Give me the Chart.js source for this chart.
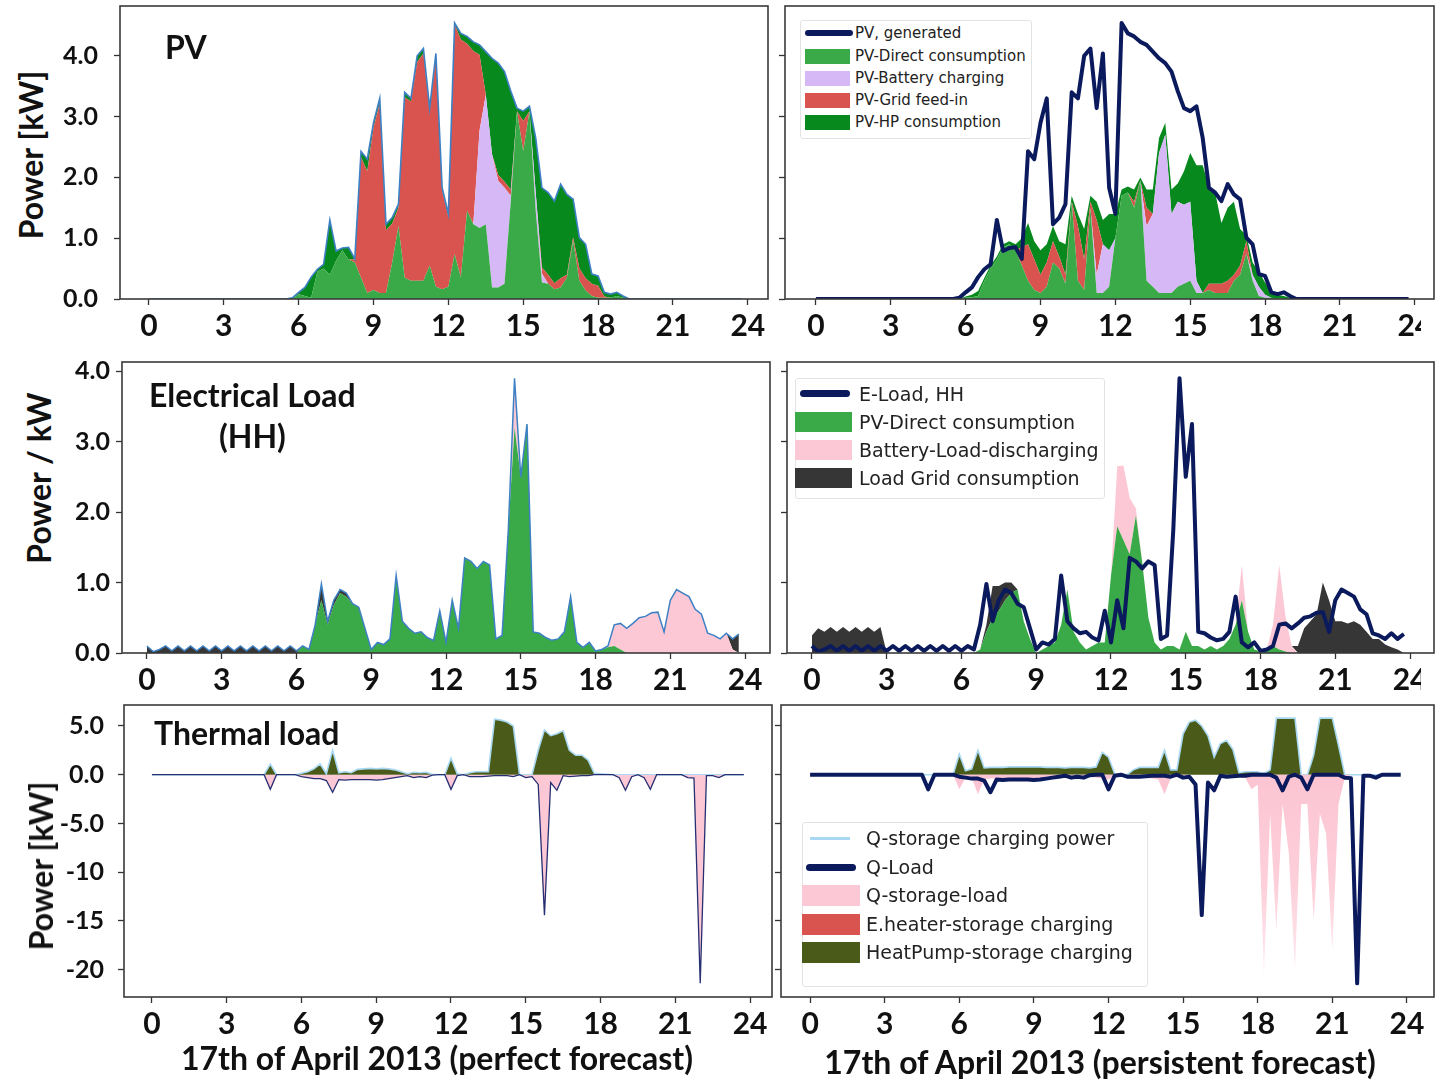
<!DOCTYPE html>
<html>
<head>
<meta charset="utf-8">
<script src="https://cdn.jsdelivr.net/npm/chart.js@4.4.0/dist/chart.umd.min.js"></script>
<style>
  body { margin: 0; background: #fff; }
  #page { position: relative; width: 1440px; height: 1081px; overflow: hidden; font-family: Lato, sans-serif; background: #fff; }
  canvas { position: absolute; }
  .lbl { position: absolute; font-weight: bold; color: #111; white-space: nowrap; line-height: 1; z-index: 3; }
  .ytitle { font-size: 32px; transform: translate(-50%, -50%) rotate(-90deg); }
  .xtitle { font-size: 31px; transform: translate(-50%, -50%); }
  .legend { position: absolute; background: #fff; border: 1.5px solid #e3e3e3; border-radius: 3px; z-index: 3; }
  .item { position: absolute; white-space: nowrap; font-family: "DejaVu Sans", sans-serif; color: #222; z-index: 4; }
  .sw { position: absolute; z-index: 4; }
  .mask { position: absolute; background: #fff; z-index: 5; }
</style>
</head>
<body>
<div id="page"></div>
<script>
// time of day, 15 minute steps
const hours = [
  0, 0.25, 0.5, 0.75, 1, 1.25, 1.5, 1.75,
  2, 2.25, 2.5, 2.75, 3, 3.25, 3.5, 3.75,
  4, 4.25, 4.5, 4.75, 5, 5.25, 5.5, 5.75,
  6, 6.25, 6.5, 6.75, 7, 7.25, 7.5, 7.75,
  8, 8.25, 8.5, 8.75, 9, 9.25, 9.5, 9.75,
  10, 10.25, 10.5, 10.75, 11, 11.25, 11.5, 11.75,
  12, 12.25, 12.5, 12.75, 13, 13.25, 13.5, 13.75,
  14, 14.25, 14.5, 14.75, 15, 15.25, 15.5, 15.75,
  16, 16.25, 16.5, 16.75, 17, 17.25, 17.5, 17.75,
  18, 18.25, 18.5, 18.75, 19, 19.25, 19.5, 19.75,
  20, 20.25, 20.5, 20.75, 21, 21.25, 21.5, 21.75,
  22, 22.25, 22.5, 22.75, 23, 23.25, 23.5, 23.75
];
const xTicks = [0, 3, 6, 9, 12, 15, 18, 21, 24];
const pvTicks = [0, 1, 2, 3, 4];
const loadTicks = [0, 1, 2, 3, 4];
const thermalTicks = [5, 0, -5, -10, -15, -20];
const thermalTickLabels = ['5.0', '0.0', '-5.0', '-10', '-15', '-20'];

// PV generation (kW), same measured curve in both forecasts
const pvGenerated = [
  0, 0, 0, 0, 0, 0, 0, 0,
  0, 0, 0, 0, 0, 0, 0, 0,
  0, 0, 0, 0, 0, 0, 0, 0.02,
  0.11, 0.19, 0.36, 0.49, 0.57, 1.3, 0.79, 0.84,
  0.85, 0.66, 2.43, 2.3, 2.9, 3.3, 1.23, 1.34,
  1.56, 3.4, 3.3, 4.0, 4.12, 3.14, 4.04, 1.83,
  1.4, 4.54, 4.37, 4.32, 4.23, 4.18, 4.07, 3.96,
  3.88, 3.74, 3.42, 3.14, 3.09, 3.17, 2.65, 1.83,
  1.75, 1.61, 1.89, 1.72, 1.64, 1.01, 0.9, 0.41,
  0.38, 0.11, 0.08, 0.11, 0.05, 0, 0, 0,
  0, 0, 0, 0, 0, 0, 0, 0,
  0, 0, 0, 0, 0, 0, 0, 0
];
// perfect forecast: PV split
const pvDirectPerfect = [
  0, 0, 0, 0, 0, 0, 0, 0,
  0, 0, 0, 0, 0, 0, 0, 0,
  0, 0, 0, 0, 0, 0, 0, 0.01,
  0.08, 0.05, 0.02, 0.45, 0.5, 0.4, 0.63, 0.8,
  0.65, 0.6, 0.35, 0.1, 0.15, 0.1, 0.1, 0.6,
  1.2, 0.35, 0.3, 0.3, 0.3, 0.55, 0.2, 0.16,
  0.2, 0.74, 0.35, 1.45, 1.23, 1.17, 1.23, 0.19,
  0.19, 0.25, 1.6, 3.09, 2.43, 3.09, 1.45, 0.27,
  0.25, 0.16, 0.19, 0.35, 0.96, 0.3, 0.14, 0.05,
  0.02, 0.02, 0.02, 0.05, 0.02, 0, 0, 0,
  0, 0, 0, 0, 0, 0, 0, 0,
  0, 0, 0, 0, 0, 0, 0, 0
];
const pvBatteryPerfect = [
  0, 0, 0, 0, 0, 0, 0, 0,
  0, 0, 0, 0, 0, 0, 0, 0,
  0, 0, 0, 0, 0, 0, 0, 0,
  0, 0, 0, 0, 0, 0, 0, 0,
  0, 0, 0, 0, 0, 0, 0, 0,
  0, 0, 0, 0, 0, 0, 0, 0,
  0, 0, 0, 0, 0, 1.6, 2.13, 2.19,
  1.75, 1.58, 0.1, 0, 0, 0, 0.3, 0.15,
  0, 0, 0, 0, 0, 0, 0, 0,
  0, 0, 0, 0, 0, 0, 0, 0,
  0, 0, 0, 0, 0, 0, 0, 0,
  0, 0, 0, 0, 0, 0, 0, 0
];
const pvGridPerfect = [
  0, 0, 0, 0, 0, 0, 0, 0,
  0, 0, 0, 0, 0, 0, 0, 0,
  0, 0, 0, 0, 0, 0, 0, 0,
  0, 0, 0, 0, 0, 0, 0, 0,
  0, 0.05, 1.98, 2.0, 2.67, 3.12, 1.03, 0.64,
  0.3, 2.97, 2.95, 3.6, 3.74, 2.54, 3.79, 1.62,
  1.15, 3.78, 3.92, 2.75, 2.85, 1.25, 0, 0,
  0.1, 0.1, 0.1, 0, 0.5, 0, 0, 0.1,
  0.15, 0.1, 0.15, 0.05, 0.05, 0.2, 0.2, 0.2,
  0.2, 0.02, 0, 0, 0, 0, 0, 0,
  0, 0, 0, 0, 0, 0, 0, 0,
  0, 0, 0, 0, 0, 0, 0, 0
];
const pvHpPerfect = [
  0, 0, 0, 0, 0, 0, 0, 0,
  0, 0, 0, 0, 0, 0, 0, 0,
  0, 0, 0, 0, 0, 0, 0, 0.01,
  0.03, 0.14, 0.34, 0.04, 0.07, 0.9, 0.16, 0.04,
  0.2, 0.01, 0.1, 0.2, 0.08, 0.08, 0.1, 0.1,
  0.06, 0.08, 0.05, 0.1, 0.08, 0.05, 0.05, 0.05,
  0.05, 0.02, 0.1, 0.12, 0.15, 0.16, 0.71, 1.58,
  1.84, 1.81, 1.62, 0.05, 0.16, 0.08, 0.9, 1.31,
  1.35, 1.35, 1.55, 1.32, 0.63, 0.51, 0.56, 0.16,
  0.16, 0.07, 0.06, 0.06, 0.03, 0, 0, 0,
  0, 0, 0, 0, 0, 0, 0, 0,
  0, 0, 0, 0, 0, 0, 0, 0
];
// persistent forecast: PV split
const pvDirectPersistent = [
  0, 0, 0, 0, 0, 0, 0, 0,
  0, 0, 0, 0, 0, 0, 0, 0,
  0, 0, 0, 0, 0, 0, 0, 0,
  0.02, 0.03, 0.05, 0.3, 0.5, 0.65, 0.85, 0.9,
  0.8, 0.55, 0.3, 0.15, 0.1, 0.2, 0.6, 0.5,
  0.25, 1.6, 0.3, 0.15, 1.5, 0.1, 0.1, 0.2,
  1.0, 1.7, 1.75, 1.5, 1.95, 0.3, 0.2, 0.1,
  0.1, 0.1, 0.2, 0.25, 0.3, 0.1, 0.1, 0.15,
  0.1, 0.1, 0.1, 0.3, 0.4, 0.75, 0.3, 0.05,
  0.02, 0.02, 0.01, 0.01, 0, 0, 0, 0,
  0, 0, 0, 0, 0, 0, 0, 0,
  0, 0, 0, 0, 0, 0, 0, 0
];
const pvBatteryPersistent = [
  0, 0, 0, 0, 0, 0, 0, 0,
  0, 0, 0, 0, 0, 0, 0, 0,
  0, 0, 0, 0, 0, 0, 0, 0,
  0, 0, 0, 0, 0, 0, 0, 0,
  0, 0, 0, 0, 0, 0, 0, 0,
  0, 0, 0, 0, 0, 0.3, 0.8, 0.6,
  0, 0, 0, 0, 0, 0.9, 1.2, 2.3,
  2.6, 1.3, 1.4, 1.3, 1.3, 0.2, 0, 0,
  0, 0, 0, 0, 0, 0, 0.1, 0.15,
  0.05, 0, 0, 0, 0, 0, 0, 0,
  0, 0, 0, 0, 0, 0, 0, 0,
  0, 0, 0, 0, 0, 0, 0, 0
];
const pvGridPersistent = [
  0, 0, 0, 0, 0, 0, 0, 0,
  0, 0, 0, 0, 0, 0, 0, 0,
  0, 0, 0, 0, 0, 0, 0, 0,
  0, 0, 0, 0, 0, 0, 0, 0,
  0, 0.3, 0.6, 0.5, 0.3, 0.4, 0.35, 0.2,
  0.15, 0, 0.9, 0.5, 0.1, 0.9, 0, 0,
  0, 0, 0, 0.1, 0, 0.3, 0, 0,
  0, 0, 0, 0, 0, 0, 0, 0.1,
  0.15, 0.15, 0.2, 0.1, 0.15, 0.2, 0, 0,
  0, 0, 0, 0, 0, 0, 0, 0,
  0, 0, 0, 0, 0, 0, 0, 0,
  0, 0, 0, 0, 0, 0, 0, 0
];
const pvHpPersistent = [
  0, 0, 0, 0, 0, 0, 0, 0,
  0, 0, 0, 0, 0, 0, 0, 0,
  0, 0, 0, 0, 0, 0, 0, 0,
  0.02, 0.04, 0.08, 0.05, 0.05, 0.05, 0.05, 0.05,
  0.1, 0.15, 0.35, 0.3, 0.4, 0.3, 0.25, 0.25,
  0.5, 0.1, 0.2, 0.5, 0.1, 0.3, 0.4, 0.6,
  0.4, 0.1, 0.1, 0.2, 0.05, 0.3, 0.4, 0.25,
  0.2, 0.4, 0.3, 0.55, 0.8, 1.9, 2.1, 1.6,
  1.5, 1.0, 1.2, 1.2, 0.6, 0.1, 0.2, 0.25,
  0.2, 0.1, 0.06, 0.04, 0.02, 0, 0, 0,
  0, 0, 0, 0, 0, 0, 0, 0,
  0, 0, 0, 0, 0, 0, 0, 0
];

// household electrical load (kW)
const eLoad = [
  0.1, 0.02, 0.05, 0.1, 0.03, 0.1, 0.03, 0.1,
  0.03, 0.1, 0.03, 0.1, 0.03, 0.1, 0.03, 0.1,
  0.03, 0.1, 0.03, 0.1, 0.03, 0.1, 0.03, 0.1,
  0.03, 0.1, 0.05, 0.4, 0.98, 0.45, 0.75, 0.9,
  0.85, 0.7, 0.65, 0.35, 0.05, 0.15, 0.12, 0.2,
  1.1, 0.45, 0.35, 0.28, 0.3, 0.22, 0.18, 0.6,
  0.15, 0.75, 0.35, 1.35, 1.3, 1.2, 1.3, 1.25,
  0.2, 0.25, 1.75, 3.9, 2.5, 3.25, 0.3, 0.28,
  0.22, 0.18, 0.2, 0.3, 0.8, 0.15, 0.08, 0.15,
  0.03, 0.05, 0.1, 0.4, 0.42, 0.35, 0.42, 0.5,
  0.52, 0.57, 0.58, 0.3, 0.75, 0.9, 0.85, 0.8,
  0.62, 0.55, 0.28, 0.25, 0.2, 0.28, 0.2, 0.27
];
const eDirectPerfect = [
  0, 0, 0, 0, 0, 0, 0, 0,
  0, 0, 0, 0, 0, 0, 0, 0,
  0, 0, 0, 0, 0, 0, 0, 0,
  0, 0.1, 0.05, 0.4, 0.75, 0.4, 0.68, 0.85,
  0.8, 0.7, 0.65, 0.35, 0.05, 0.15, 0.12, 0.2,
  1.1, 0.45, 0.35, 0.28, 0.3, 0.22, 0.18, 0.6,
  0.15, 0.75, 0.35, 1.35, 1.3, 1.2, 1.3, 1.25,
  0.2, 0.25, 1.75, 3.2, 2.5, 3.25, 0.3, 0.28,
  0.22, 0.18, 0.2, 0.3, 0.8, 0.15, 0.08, 0.15,
  0.03, 0.05, 0.08, 0.1, 0.05, 0, 0, 0,
  0, 0, 0, 0, 0, 0, 0, 0,
  0, 0, 0, 0, 0, 0, 0, 0
];
const eBatteryPerfect = [
  0, 0, 0, 0, 0, 0, 0, 0,
  0, 0, 0, 0, 0, 0, 0, 0,
  0, 0, 0, 0, 0, 0, 0, 0,
  0, 0, 0, 0, 0, 0, 0, 0,
  0, 0, 0, 0, 0, 0, 0, 0,
  0, 0, 0, 0, 0, 0, 0, 0,
  0, 0, 0, 0, 0, 0, 0, 0,
  0, 0, 0, 0.7, 0, 0, 0, 0,
  0, 0, 0, 0, 0, 0, 0, 0,
  0, 0, 0.02, 0.3, 0.37, 0.35, 0.42, 0.5,
  0.52, 0.57, 0.58, 0.3, 0.75, 0.9, 0.85, 0.8,
  0.62, 0.55, 0.28, 0.25, 0.2, 0.28, 0.05, 0
];
const eGridPerfect = [
  0.1, 0.02, 0.05, 0.1, 0.03, 0.1, 0.03, 0.1,
  0.03, 0.1, 0.03, 0.1, 0.03, 0.1, 0.03, 0.1,
  0.03, 0.1, 0.03, 0.1, 0.03, 0.1, 0.03, 0.1,
  0.03, 0, 0, 0, 0.23, 0.05, 0.07, 0.05,
  0.05, 0, 0, 0, 0, 0, 0, 0,
  0, 0, 0, 0, 0, 0, 0, 0,
  0, 0, 0, 0, 0, 0, 0, 0,
  0, 0, 0, 0, 0, 0, 0, 0,
  0, 0, 0, 0, 0, 0, 0, 0,
  0, 0, 0, 0, 0, 0, 0, 0,
  0, 0, 0, 0, 0, 0, 0, 0,
  0, 0, 0, 0, 0, 0, 0.15, 0.27
];
const eDirectPersistent = [
  0, 0, 0, 0, 0, 0, 0, 0,
  0, 0, 0, 0, 0, 0, 0, 0,
  0, 0, 0, 0, 0, 0, 0, 0,
  0, 0, 0, 0.05, 0.3, 0.5, 0.6, 0.75,
  0.85, 0.9, 0.45, 0.2, 0, 0.05, 0.1, 0.15,
  0.4, 0.9, 0.3, 0.15, 0.05, 0.1, 0.15, 0.15,
  1.1, 1.8, 1.6, 1.4, 1.95, 1.3, 0.5, 0.15,
  0.05, 0.1, 0.1, 0.05, 0.3, 0.1, 0.1, 0.05,
  0.1, 0.05, 0.1, 0.2, 0.4, 0.75, 0.3, 0.05,
  0.02, 0.05, 0.1, 0.05, 0.02, 0, 0, 0,
  0, 0, 0, 0, 0, 0, 0, 0,
  0, 0, 0, 0, 0, 0, 0, 0
];
const eBatteryPersistent = [
  0, 0, 0, 0, 0, 0, 0, 0,
  0, 0, 0, 0, 0, 0, 0, 0,
  0, 0, 0, 0, 0, 0, 0, 0,
  0, 0, 0, 0, 0, 0, 0, 0,
  0, 0, 0, 0, 0, 0, 0, 0,
  0, 0, 0, 0, 0, 0, 0, 0,
  0, 0.85, 1.06, 0.8, 0.1, 0, 0, 0,
  0, 0, 0, 0, 0, 0, 0, 0,
  0, 0, 0, 0, 0, 0.5, 0, 0,
  0, 0, 0.3, 1.2, 0.5, 0.1, 0, 0,
  0, 0, 0, 0, 0, 0, 0, 0,
  0, 0, 0, 0, 0, 0, 0, 0
];
const eGridPersistent = [
  0.25, 0.35, 0.3, 0.37, 0.3, 0.37, 0.3, 0.37,
  0.3, 0.37, 0.3, 0.37, 0, 0, 0, 0,
  0, 0, 0, 0, 0, 0, 0, 0,
  0, 0, 0, 0, 0.1, 0.45, 0.35, 0.25,
  0.15, 0, 0, 0, 0, 0, 0, 0,
  0, 0, 0, 0, 0, 0, 0, 0,
  0, 0, 0, 0, 0, 0, 0, 0,
  0, 0, 0, 0, 0, 0, 0, 0,
  0, 0, 0, 0, 0, 0, 0, 0,
  0, 0, 0, 0, 0, 0, 0.1, 0.35,
  0.45, 0.55, 1.0, 0.75, 0.45, 0.45, 0.42, 0.45,
  0.4, 0.3, 0.2, 0.2, 0.12, 0.08, 0.05, 0
];

// thermal (kW): heat demand is drawn negative
const qLoad = [
  0, 0, 0, 0, 0, 0, 0, 0,
  0, 0, 0, 0, 0, 0, 0, 0,
  0, 0, 0, -1.5, 0, 0, 0, 0,
  -0.2, -0.3, -0.4, -0.4, -0.6, -1.8, -0.5, -0.55,
  -0.5, -0.5, -0.5, -0.5, -0.55, -0.5, -0.4, -0.3,
  -0.2, -0.1, -0.3, -0.2, -0.3, -0.05, 0, 0,
  -1.5, -0.1, 0, -0.2, -0.2, -0.2, -0.15, -0.1,
  -0.1, -0.1, -0.2, 0, -0.3, -0.2, -1.0, -14.4,
  -0.8, -1.6, -0.1, -0.2, -0.15, -0.1, -0.1, 0,
  0, 0, 0, -0.3, -1.6, -0.2, 0, -0.3,
  -1.5, 0, 0, 0, 0, 0, -0.3, -0.35,
  -21.4, -0.1, -0.1, -0.3, 0, 0, 0, 0
];
const hpStoragePerfect = [
  0, 0, 0, 0, 0, 0, 0, 0,
  0, 0, 0, 0, 0, 0, 0, 0,
  0, 0, 0, 1.1, 0, 0, 0, 0,
  0.15, 0.3, 0.6, 1.1, 0.1, 2.5, 0.2, 0.3,
  0.2, 0.55, 0.6, 0.65, 0.6, 0.65, 0.6, 0.5,
  0.3, 0.1, 0.25, 0.2, 0.25, 0.05, 0, 0,
  1.7, 0.1, 0, 0.2, 0.3, 0.3, 0.3, 5.7,
  5.6, 5.4, 5.0, 0, 0, 0, 2.5, 4.6,
  4.0, 4.2, 4.5, 2.5, 2.0, 2.0, 1.5, 0.15,
  0.1, 0.05, 0, 0, 0, 0, 0, 0,
  0, 0, 0, 0, 0, 0, 0, 0,
  0, 0, 0, 0, 0, 0, 0, 0
];
const hpStoragePersistent = [
  0, 0, 0, 0, 0, 0, 0, 0,
  0, 0, 0, 0, 0, 0, 0, 0,
  0, 0, 0, 0, 0, 0, 0, 0,
  2.1, 0.4, 0.6, 2.5, 0.7, 0.75, 0.75, 0.75,
  0.8, 0.8, 0.8, 0.8, 0.8, 0.8, 0.75, 0.75,
  0.75, 0.7, 0.75, 0.75, 0.75, 0.7, 0.8, 2.3,
  1.8, 0.1, 0, 0, 0.5, 0.75, 0.75, 0.75,
  0.75, 2.5, 0.5, 0.5, 4.2, 5.4, 5.6, 5.0,
  4.0, 1.8, 3.2, 3.5, 2.6, 0.2, 0.3, 0.3,
  0.3, 0.1, 0.5, 5.8, 5.8, 5.8, 5.8, 0,
  0, 2.0, 5.8, 5.8, 5.8, 3.0, 0, 0,
  0, 0, 0, 0, 0, 0, 0, 0
];
const qStoragePersistent = [
  0, 0, 0, 0, 0, 0, 0, 0,
  0, 0, 0, 0, 0, 0, 0, 0,
  0, 0, 0, 0, 0, 0, 0, 0,
  -1.5, -0.3, -0.3, -2.0, -0.5, -0.4, -0.4, -0.4,
  -0.4, -0.4, -0.35, -0.35, -0.35, -0.3, -0.3, -0.3,
  -0.25, -0.2, -0.2, -0.2, -0.2, -0.2, -0.3, -0.4,
  -0.5, -0.1, 0, 0, -0.2, -0.3, -0.3, -0.4,
  -0.5, -2.0, -0.4, -0.2, -0.1, 0, 0, 0,
  0, 0, 0, 0, 0, -0.2, -0.3, -1.5,
  -1.0, -20.5, -4.0, -16.0, -3.0, -8.0, -20.0, -3.0,
  -3.0, -15.0, -4.0, -6.0, -18.0, -3.0, -0.3, 0,
  0, 0, 0, 0, 0, 0, 0, 0
];

const C = {
  green: '#3aaa48', lavender: '#d7b8f6', red: '#d9534f', darkGreen: '#07891d',
  pink: '#fdc8d5', gray: '#363636', olive: '#4a5a18', navy: '#0b1a5c',
  steel: '#3d80c4', lightBlue: '#a8d8f2', thinNavy: '#262f72'
};

const page = document.getElementById('page');
const pts = vals => hours.map((h, i) => ({ x: h, y: vals[i] }));

function area(data, color, fill, extra) {
  return Object.assign({ data: pts(data), backgroundColor: color, borderWidth: 0, fill: fill, stack: 'a', pointRadius: 0 }, extra || {});
}
function line(data, color, width, extra) {
  return Object.assign({ data: pts(data), borderColor: color, borderWidth: width, fill: false, stack: 'line', pointRadius: 0 }, extra || {});
}
// pink streaks of the persistent case fade out downwards
function fadingPink(context) {
  const chart = context.chart;
  const a = chart.chartArea;
  if (!a) return C.pink;
  const y0 = chart.scales.y.getPixelForValue(0);
  const g = chart.ctx.createLinearGradient(0, y0, 0, a.bottom);
  g.addColorStop(0, 'rgba(252,196,210,1)');
  g.addColorStop(0.5, 'rgba(252,196,210,0.8)');
  g.addColorStop(1, 'rgba(252,196,210,0.2)');
  return g;
}

const framePlugin = {
  id: 'frame',
  afterDraw(chart) {
    const { ctx, chartArea: a } = chart;
    ctx.save();
    ctx.strokeStyle = '#3a3a3a';
    ctx.lineWidth = 1.6;
    ctx.strokeRect(a.left, a.top, a.right - a.left, a.bottom - a.top);
    ctx.restore();
  }
};

function panel(box, datasets, y) {
  const padT = 4, padR = 10, xh = 48;
  const cv = document.createElement('canvas');
  cv.width = box.r - box.l + box.yw + padR;
  cv.height = box.b - box.t + padT + xh;
  cv.style.left = (box.l - box.yw) + 'px';
  cv.style.top = (box.t - padT) + 'px';
  page.appendChild(cv);
  new Chart(cv, {
    type: 'line',
    data: { datasets },
    options: {
      responsive: false, animation: false, events: [],
      layout: { padding: { top: padT, right: padR, left: 0, bottom: 0 } },
      plugins: { legend: { display: false }, tooltip: { enabled: false } },
      elements: { line: { tension: 0 }, point: { radius: 0 } },
      scales: {
        x: {
          type: 'linear', min: box.x0, max: box.x1,
          afterFit(s) { s.height = xh; s.paddingLeft = 0; s.paddingRight = 0; },
          afterBuildTicks(s) { s.ticks = xTicks.map(v => ({ value: v })); },
          grid: { drawOnChartArea: false, color: '#333', tickLength: 6, tickWidth: 1.3 },
          border: { display: false },
          ticks: { autoSkip: false, maxRotation: 0, padding: 3, color: '#111',
                   font: { family: 'Lato', weight: 'bold', size: 30 }, callback: v => String(v) }
        },
        y: {
          min: y.min, max: y.max, stacked: y.stacked,
          afterFit(s) { s.width = box.yw; s.paddingTop = 0; s.paddingBottom = 0; },
          afterBuildTicks(s) { s.ticks = y.ticks.map(v => ({ value: v })); },
          grid: { drawOnChartArea: false, color: '#333', tickLength: 6, tickWidth: 1.3 },
          border: { display: false },
          ticks: { autoSkip: false, padding: y.pad, color: '#111',
                   font: { family: 'Lato', weight: 'bold', size: 25 },
                   callback: box.labels ? y.fmt : () => '' }
        }
      }
    },
    plugins: [framePlugin]
  });
}

const fmt1 = v => v.toFixed(1);
const fmtThermal = v => thermalTickLabels[thermalTicks.indexOf(v)];
const pvY = { min: 0, max: 4.82, stacked: true, ticks: pvTicks, fmt: fmt1, pad: 16 };
const loadY = { min: 0, max: 4.13, stacked: true, ticks: loadTicks, fmt: fmt1, pad: 6 };
const thermY = { min: -22.8, max: 7.15, stacked: false, ticks: thermalTicks, fmt: fmtThermal, pad: 14 };

// PV, perfect forecast
panel({ l: 120, t: 6, r: 768, b: 299, x0: -1.16, x1: 24.81, yw: 65, labels: true }, [
  line(pvGenerated, C.steel, 1.6),
  area(pvDirectPerfect, C.green, 'origin'),
  area(pvBatteryPerfect, C.lavender, '-1'),
  area(pvGridPerfect, C.red, '-1'),
  area(pvHpPerfect, C.darkGreen, '-1')
], pvY);

// PV, persistent forecast
panel({ l: 785, t: 6, r: 1434, b: 299, x0: -1.24, x1: 24.77, yw: 10, labels: false }, [
  line(pvGenerated, C.navy, 4, { borderJoinStyle: 'round' }),
  area(pvDirectPersistent, C.green, 'origin'),
  area(pvBatteryPersistent, C.lavender, '-1'),
  area(pvGridPersistent, C.red, '-1'),
  area(pvHpPersistent, C.darkGreen, '-1')
], Object.assign({}, pvY, { pad: 4 }));

// Electrical load, perfect forecast
panel({ l: 122, t: 362, r: 770, b: 653, x0: -1.0, x1: 25.0, yw: 60, labels: true }, [
  line(eLoad, C.steel, 1.5),
  area(eDirectPerfect, C.green, 'origin'),
  area(eBatteryPerfect, C.pink, '-1'),
  area(eGridPerfect, C.gray, '-1')
], loadY);

// Electrical load, persistent forecast
panel({ l: 787, t: 362, r: 1434, b: 653, x0: -1.0, x1: 24.96, yw: 10, labels: false }, [
  line(eLoad, C.navy, 4, { borderJoinStyle: 'round' }),
  area(eDirectPersistent, C.green, 'origin'),
  area(eBatteryPersistent, C.pink, '-1'),
  area(eGridPersistent, C.gray, '-1')
], Object.assign({}, loadY, { pad: 4 }));

// Thermal, perfect forecast
panel({ l: 124, t: 705, r: 772, b: 997, x0: -1.12, x1: 24.88, yw: 70, labels: true }, [
  line(qLoad, C.thinNavy, 1.3, { fill: { target: 'origin', above: 'rgba(0,0,0,0)', below: C.pink } }),
  line(hpStoragePerfect, C.lightBlue, 1.6, { fill: 'origin', backgroundColor: C.olive })
], thermY);

// Thermal, persistent forecast
panel({ l: 781, t: 705, r: 1434, b: 997, x0: -1.17, x1: 25.09, yw: 10, labels: false }, [
  line(qLoad, C.navy, 4, { borderJoinStyle: 'round' }),
  line(qStoragePersistent, 'rgba(0,0,0,0)', 0, { fill: 'origin', backgroundColor: fadingPink }),
  line(hpStoragePersistent, C.lightBlue, 1.6, { fill: 'origin', backgroundColor: C.olive })
], Object.assign({}, thermY, { pad: 4 }));

// texts
function text(cls, str, css) {
  const d = document.createElement('div');
  d.className = cls;
  d.textContent = str;
  Object.assign(d.style, css);
  page.appendChild(d);
  return d;
}
text('lbl', 'PV', { left: '165px', top: '31px', fontSize: '32px' });
text('lbl', 'Electrical Load', { left: '149px', top: '379px', fontSize: '32px' });
text('lbl', '(HH)', { left: '219px', top: '420px', fontSize: '32px' });
text('lbl', 'Thermal load', { left: '154px', top: '717px', fontSize: '32px' });
text('lbl ytitle', 'Power [kW]', { left: '31px', top: '155px' });
text('lbl ytitle', 'Power / kW', { left: '39px', top: '478px' });
text('lbl ytitle', 'Power [kW]', { left: '41px', top: '866px' });
text('lbl xtitle', '17th of April 2013 (perfect forecast)', { left: '437px', top: '1058px', fontSize: '32px' });
text('lbl xtitle', '17th of April 2013 (persistent forecast)', { left: '1100px', top: '1062px', fontSize: '32px' });

// clipped "24" labels at the right border of the upper two right panels
[[1421, 305], [1421, 662]].forEach(([l, t]) => {
  const m = document.createElement('div');
  m.className = 'mask';
  Object.assign(m.style, { left: l + 'px', top: t + 'px', width: '19px', height: '40px' });
  page.appendChild(m);
});

// legends
function legend(box, fontSize, rowH, items) {
  const b = document.createElement('div');
  b.className = 'legend';
  Object.assign(b.style, { left: box.l + 'px', top: box.t + 'px', width: box.w + 'px', height: box.h + 'px' });
  page.appendChild(b);
  items.forEach(it => {
    const s = document.createElement('div');
    s.className = 'sw';
    Object.assign(s.style, { left: it.sx + 'px', top: it.sy + 'px', width: it.sw + 'px', height: it.sh + 'px',
                             background: it.color, borderRadius: (it.round || 0) + 'px' });
    page.appendChild(s);
    text('item', it.label, { left: box.tx + 'px', top: (it.cy - rowH / 2) + 'px', fontSize: fontSize + 'px',
                             lineHeight: rowH + 'px', height: rowH + 'px' });
  });
}
legend({ l: 800, t: 20, w: 230, h: 117, tx: 855 }, 15, 18, [
  { label: 'PV, generated', color: C.navy, sx: 805, sy: 30, sw: 48, sh: 6, round: 3, cy: 33 },
  { label: 'PV-Direct consumption', color: C.green, sx: 805, sy: 49, sw: 45, sh: 15, cy: 56 },
  { label: 'PV-Battery charging', color: C.lavender, sx: 805, sy: 71, sw: 45, sh: 15, cy: 78 },
  { label: 'PV-Grid feed-in', color: C.red, sx: 805, sy: 93, sw: 45, sh: 15, cy: 100 },
  { label: 'PV-HP consumption', color: C.darkGreen, sx: 805, sy: 115, sw: 45, sh: 15, cy: 122 }
]);
legend({ l: 795, t: 378, w: 308, h: 119, tx: 859 }, 19, 24, [
  { label: 'E-Load, HH', color: C.navy, sx: 800, sy: 390, sw: 50, sh: 7, round: 4, cy: 394 },
  { label: 'PV-Direct consumption', color: C.green, sx: 795, sy: 412, sw: 57, sh: 20, cy: 422 },
  { label: 'Battery-Load-discharging', color: C.pink, sx: 795, sy: 440, sw: 57, sh: 20, cy: 450 },
  { label: 'Load Grid consumption', color: C.gray, sx: 795, sy: 468, sw: 57, sh: 20, cy: 478 }
]);
legend({ l: 802, t: 822, w: 344, h: 163, tx: 866 }, 19, 24, [
  { label: 'Q-storage charging power', color: C.lightBlue, sx: 810, sy: 837, sw: 40, sh: 3, cy: 838 },
  { label: 'Q-Load', color: C.navy, sx: 806, sy: 864, sw: 50, sh: 7, round: 4, cy: 867 },
  { label: 'Q-storage-load', color: C.pink, sx: 802, sy: 885, sw: 58, sh: 21, cy: 895 },
  { label: 'E.heater-storage charging', color: C.red, sx: 802, sy: 914, sw: 58, sh: 21, cy: 924 },
  { label: 'HeatPump-storage charging', color: C.olive, sx: 802, sy: 942, sw: 58, sh: 21, cy: 952 }
]);
</script>
</body>
</html>
